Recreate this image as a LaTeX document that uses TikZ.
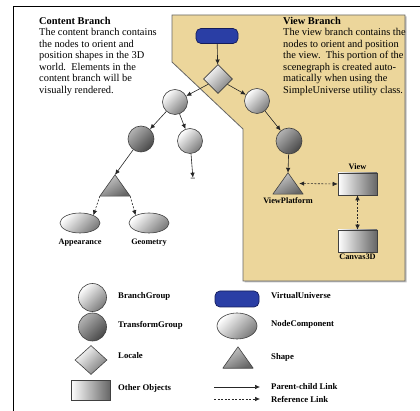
\documentclass[tikz,border=0pt]{standalone}
\usepackage{fontspec}
\setmainfont{Liberation Serif}
\usetikzlibrary{shapes.geometric,arrows.meta,calc}
\definecolor{viewtan}{RGB}{236,214,155}
\definecolor{vublue}{RGB}{42,62,165}
\definecolor{vuedge}{RGB}{20,28,90}
\begin{document}
\begin{tikzpicture}[x=1pt,y=-1pt,
  base/.style={draw=black!75, line width=0.6pt, inner sep=0pt},
  bgroup/.style={base, circle, minimum size=25pt, shading=axis,
    top color=white, bottom color=black!52, shading angle=45},
  tgroup/.style={base, circle, minimum size=26pt, shading=axis,
    top color=black!30, bottom color=black!72, shading angle=45},
  locale/.style={base, diamond, minimum width=29pt, minimum height=29pt,
    shading=axis, top color=white, bottom color=black!52, shading angle=45},
  vuniv/.style={draw=vuedge, line width=0.7pt, fill=vublue, rounded corners=5pt,
    minimum width=42pt, minimum height=15pt, inner sep=0pt},
  ncomp/.style={base, ellipse, minimum width=40pt, minimum height=20pt,
    shading=axis, top color=white, bottom color=black!52, shading angle=45},
  other/.style={base, rectangle, minimum width=39pt, minimum height=22pt,
    left color=white, right color=black!60},
  trislot/.style={minimum width=30pt, minimum height=21pt, inner sep=0pt},
  trishade/.style={draw=black!75, line width=0.6pt, line join=round, shading=axis,
    top color=black!20, bottom color=black!60, shading angle=30},
  link/.style={-{Latex[length=5pt,width=4.5pt]}, line width=0.6pt, black!85},
  reflink/.style={link, dash pattern=on 2pt off 1.5pt},
  bireflink/.style={reflink, {Latex[length=5pt,width=4.5pt]}-{Latex[length=5pt,width=4.5pt]}},
  tag/.style={font=\fontsize{8.3}{9}\selectfont\bfseries, inner sep=0pt},
  legtag/.style={font=\fontsize{8.7}{9}\selectfont\bfseries, inner sep=0pt, anchor=west},
  blurb/.style={font=\fontsize{10.4}{11.5}\selectfont, align=left, inner sep=0pt, anchor=north west}
]
\useasboundingbox (0,0) rectangle (420,411);

% outer frame
\draw[line width=0.8pt] (420,6) -- (13,6) -- (13,411);

% view branch region
\fill[black!25] (173.5,16.5) -- (406.5,16.5) -- (406.5,282.5) -- (244.5,282.5) -- (244.5,130) -- (173.5,63) -- cycle;
\draw[fill=viewtan, draw=black!60, line width=0.8pt]
  (172,15) -- (405,15) -- (405,281) -- (243,281) -- (243,129) -- (172,62) -- cycle;

% descriptions
\node[blurb] (ctext) at (39,17) {\textbf{Content Branch}\\The content branch contains\\the nodes to orient and\\position shapes in the 3D\\world.\ \ Elements in the\\content branch will be\\visually rendered.};
\node[blurb] (vtext) at (283,17) {\textbf{View Branch}\\The view branch contains the\\nodes to orient and position\\the view.\ \ This portion of the\\scenegraph is created auto-\\matically when using the\\SimpleUniverse utility class.};

% scene graph nodes
\node[vuniv] (vu) at (217,36) {};
\node[locale] (loc) at (218,79) {};
\node[bgroup] (bgL) at (175,102) {};
\node[bgroup] (bgR) at (257,101) {};
\node[tgroup] (tgL) at (141,139) {};
\node[bgroup] (bgM) at (190,141) {};
\node[tgroup] (tgR) at (289,141) {};
\node[tag] (more) at (193,179) {--};

\node[trislot] (triL) at (115,185.5) {};
\draw[trishade] (triL.south west) -- (triL.north) -- (triL.south east) -- cycle;
\node[trislot] (vp) at (288,183.5) {};
\draw[trishade] (vp.south west) -- (vp.north) -- (vp.south east) -- cycle;
\node[tag] at (288,201) {ViewPlatform};

\node[ncomp] (app) at (80,223) {};
\node[tag] at (80,243) {Appearance};
\node[ncomp] (geo) at (149,223) {};
\node[tag] at (149,243) {Geometry};

\node[other] (view) at (357.5,184) {};
\node[tag] at (357.5,167) {View};
\node[other] (canvas) at (357.5,241) {};
\node[tag] at (357.5,256.5) {Canvas3D};

% parent-child links
\draw[link] (vu) -- (loc);
\draw[link] (loc) -- (bgL);
\draw[link] (loc) -- (bgR);
\draw[link] (bgL) -- (tgL);
\draw[link] (bgL) -- (bgM);
\draw[link] (bgM) -- (more);
\draw[link] (bgR) -- (tgR);
\draw[link] (tgL) -- (triL.north);
\draw[link] (tgR) -- (vp.north);

% reference links
\draw[reflink] (triL.south west) -- (app.30);
\draw[reflink] (triL.south east) -- (geo.150);
\draw[bireflink] ($(vp.east)+(-4,0)$) -- (view.west);
\draw[bireflink] (view.south) -- (canvas.north);

% legend
\node[bgroup, minimum size=28pt] (lbg) at (92.5,297.5) {};
\node[legtag] at (118,296) {BranchGroup};
\node[tgroup, minimum size=28pt] (ltg) at (92.5,327) {};
\node[legtag] at (118,325) {TransformGroup};
\node[locale, minimum width=32pt] (lloc) at (91,360) {};
\node[legtag] at (118,356) {Locale};
\node[other, minimum height=20pt] (lother) at (90.5,390) {};
\node[legtag] at (118,388) {Other Objects};

\node[vuniv, minimum width=44pt, minimum height=16pt] (lvu) at (237,299) {};
\node[legtag] at (271,296) {VirtualUniverse};
\node[ncomp, minimum height=26pt] (lnc) at (237,326) {};
\node[legtag] at (271,324) {NodeComponent};
\node[trislot] (lshape) at (238,357.5) {};
\draw[trishade] (lshape.south west) -- (lshape.north) -- (lshape.south east) -- cycle;
\node[legtag] at (271,357) {Shape};

\coordinate (pcA) at (214,387);
\coordinate (pcB) at (260,387);
\draw[link] (pcA) -- (pcB);
\node[legtag] at (271,387) {Parent-child Link};
\coordinate (rfA) at (214,399);
\coordinate (rfB) at (260,399);
\draw[reflink] (rfA) -- (rfB);
\node[legtag] at (271,399) {Reference Link};
\end{tikzpicture}
\end{document}
